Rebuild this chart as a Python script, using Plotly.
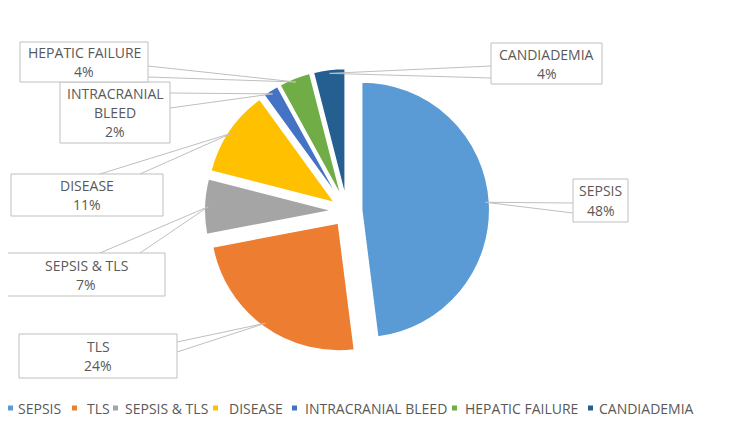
import math
import plotly.graph_objects as go

# ---- data ----
labels = ["SEPSIS", "TLS", "SEPSIS & TLS", "DISEASE", "INTRACRANIAL BLEED", "HEPATIC FAILURE", "CANDIADEMIA"]
values = [48, 24, 7, 11, 2, 4, 4]
colors = ["#5B9BD5", "#ED7D31", "#A5A5A5", "#FFC000", "#4472C4", "#70AD47", "#255E91"]
callout_lines = [["SEPSIS"], ["TLS"], ["SEPSIS & TLS"], ["DISEASE"],
                 ["INTRACRANIAL", "BLEED"], ["HEPATIC FAILURE"], ["CANDIADEMIA"]]

# ---- layout geometry (pixels in the 740x441 page) ----
PAGE_W, PAGE_H = 740, 441
OFF = 8  # default body margin of the html page
W, H = PAGE_W - OFF, PAGE_H - OFF
CX, CY, R = 347, 211, 128
PULL = 0.115
HALF = R * (1 + PULL)

# callout boxes: (x0, y0, x1, y1), wedge base points
boxes = {
    "SEPSIS": ((573, 179, 628, 222), ((573, 203), (573, 213))),
    "TLS": ((19, 334, 177, 378), ((177, 342), (177, 352))),
    "SEPSIS & TLS": ((7, 253, 165, 296), ((100, 253), (140, 253))),
    "DISEASE": ((11, 174, 163, 216), ((100, 174), (140, 174))),
    "INTRACRANIAL BLEED": ((60, 82, 170, 143), ((170, 93), (170, 108))),
    "HEPATIC FAILURE": ((20, 42, 148, 82), ((148, 66), (148, 77))),
    "CANDIADEMIA": ((491, 43, 602, 84), ((491, 66), (491, 78))),
}
legend_pos = [(8, 16), (72, 85), (113, 123), (213, 227), (292, 303), (452, 463), (588, 597)]
LEGEND_Y = 408

TEXT_COLOR = "#595959"
LINE_COLOR = "#BFBFBF"
FONT = "Open Sans"
FS = 14


def px(x):
    return (x - OFF) / W


def py(y):
    return 1 - (y - OFF) / H


fig = go.Figure()
fig.add_trace(go.Pie(
    labels=labels, values=values, sort=False, direction="clockwise", rotation=0,
    pull=PULL, textinfo="none", showlegend=False,
    marker=dict(colors=colors, line=dict(color="white", width=1.5)),
    domain=dict(x=[px(CX - HALF), px(CX + HALF)], y=[py(CY + HALF), py(CY - HALF)]),
    hoverinfo="label+percent",
))

shapes = []
annotations = []
total = sum(values)
cum = 0
for lab, v, lines in zip(labels, values, callout_lines):
    mid = (cum + v / 2) / total * 2 * math.pi
    cum += v
    rr = HALF - 4
    tx, ty = CX + rr * math.sin(mid), CY - rr * math.cos(mid)
    (x0, y0, x1, y1), (b1, b2) = boxes[lab]
    shapes.append(dict(
        type="path", xref="paper", yref="paper",
        path=f"M {px(b1[0])},{py(b1[1])} L {px(tx)},{py(ty)} L {px(b2[0])},{py(b2[1])}",
        line=dict(color=LINE_COLOR, width=1),
    ))
    shapes.append(dict(
        type="rect", xref="paper", yref="paper",
        x0=px(x0), x1=px(x1), y0=py(y1), y1=py(y0),
        line=dict(color=LINE_COLOR, width=1), fillcolor="white",
    ))
    pct = f"{round(v / total * 100)}%"
    all_lines = lines + [pct]
    n = len(all_lines)
    ymid = (y0 + y1) / 2
    for i, t in enumerate(all_lines):
        yy = ymid + (i - (n - 1) / 2) * 19
        annotations.append(dict(
            x=px((x0 + x1) / 2), y=py(yy), xref="paper", yref="paper",
            text=t, showarrow=False, xanchor="center", yanchor="middle",
            font=dict(family=FONT, size=FS, color=TEXT_COLOR),
        ))

# legend
for (mx, tx), lab, c in zip(legend_pos, labels, colors):
    shapes.append(dict(
        type="rect", xref="paper", yref="paper",
        x0=px(mx), x1=px(mx + 5), y0=py(LEGEND_Y + 2.5), y1=py(LEGEND_Y - 2.5),
        line=dict(width=0), fillcolor=c,
    ))
    annotations.append(dict(
        x=px(tx), y=py(LEGEND_Y), xref="paper", yref="paper",
        text=lab, showarrow=False, xanchor="left", yanchor="middle",
        font=dict(family=FONT, size=FS, color=TEXT_COLOR),
    ))

fig.update_layout(
    width=W, height=H, margin=dict(l=0, r=0, t=0, b=0),
    paper_bgcolor="white", plot_bgcolor="white",
    shapes=shapes, annotations=annotations,
    font=dict(family=FONT, size=FS, color=TEXT_COLOR),
)
fig.write_html("out.html")
